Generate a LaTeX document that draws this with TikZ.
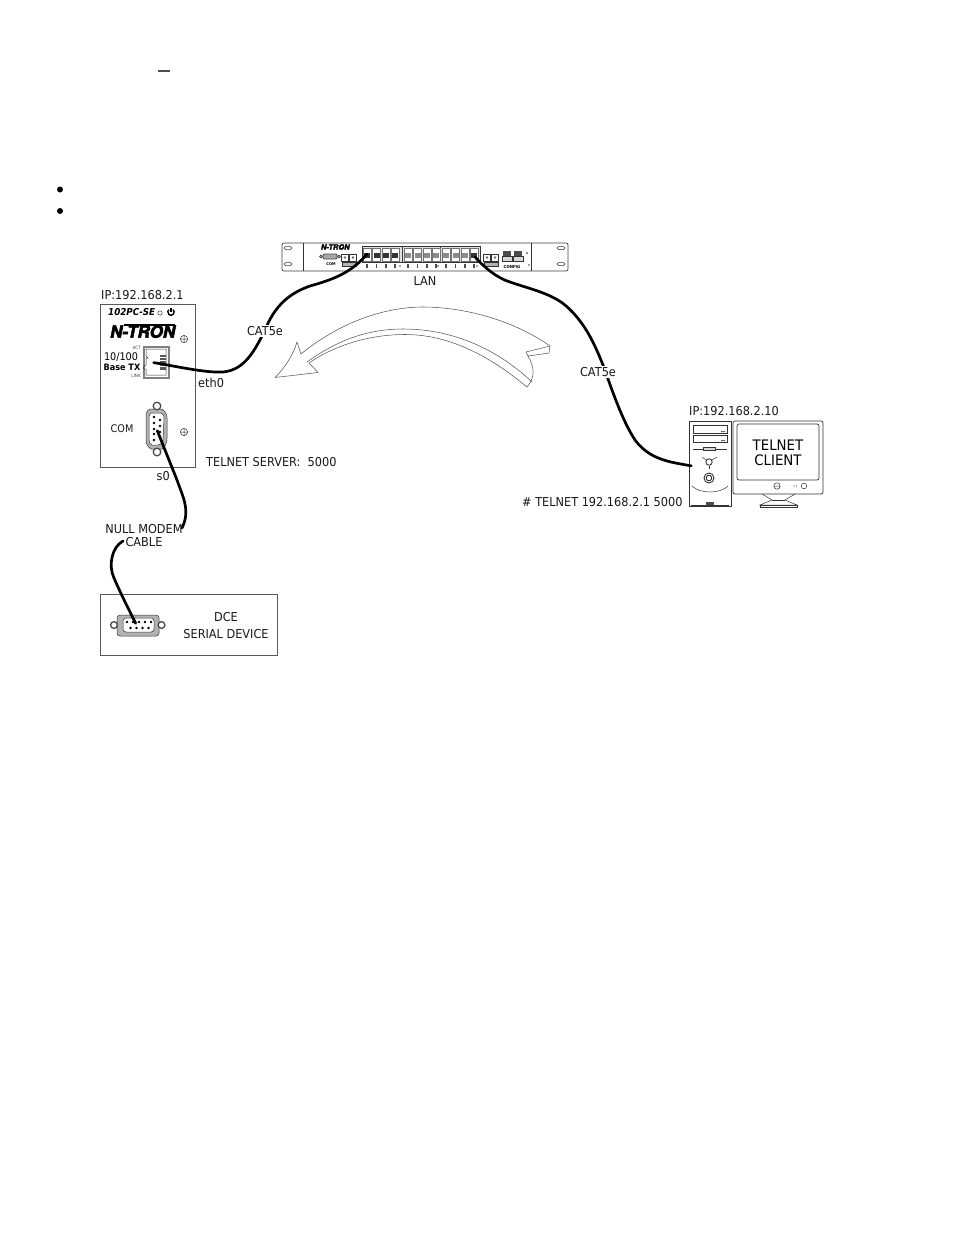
\documentclass[tikz,border=0pt]{standalone}
\usepackage{fontspec}
\setmainfont{DejaVu Sans}[FakeStretch=0.92]
\newfontfamily\ntronf{TeX Gyre Heros}[FakeBold=3,FakeSlant=0.2,FakeStretch=1.0]
\begin{document}
\begin{tikzpicture}[x=1pt,y=-1pt,
  box/.style={draw=black!65,line width=.7pt},
  thin part/.style={draw=black!80,line width=.5pt},
  cable/.style={draw=black,line width=2.7pt,line cap=round,line join=round},
  lbl/.style={inner sep=0pt,font=\fontsize{12.3}{13}\selectfont,text=black!90},
  gaplbl/.style={lbl,fill=white,inner sep=1.5pt},
  arrowline/.style={draw=black!65,line width=.55pt,line join=round}]
\useasboundingbox[fill=white] (0,0) rectangle (954,1235);
% top marks
\draw[line width=1.3pt,black!70] (158,71) -- (170,71);
\fill (60,189.5) circle (3); \fill (60,211) circle (3);

% ===== Rack switch =====
\node[box,draw=black!75,rounded corners=2pt,minimum width=286pt,minimum height=28pt,inner sep=0pt] (rack) at (425,257) {};
\draw[thin part] (303,243)--(303,271) (531,243)--(531,271);
\foreach \x/\y in {288/248,288/264,561/248,561/264}{
  \draw[thin part,rounded corners=1.5pt] (\x-4,\y-1.5) rectangle (\x+4,\y+1.5);}
\node[inner sep=0pt,font=\fontsize{7.5}{8}\ntronf\bfseries\selectfont] at (335,247) {N-TRON};
\draw[draw=black!70,rounded corners=1pt,line width=.8pt,fill=black!35] (323,254) rectangle (337,259);
\draw[thin part,line width=.7pt] (321,256.5) circle (1.3) (339,256.5) circle (1.3);
\node[inner sep=0pt,font=\fontsize{3.8}{4}\bfseries\selectfont] at (331,264) {COM};
\foreach \x in {345,353}{\draw[thin part,line width=.7pt] (\x-3.5,254) rectangle (\x+3.5,261);\fill[black!60] (\x,257.5) circle (1.4);}
\draw[thin part,fill=black!30] (342,262.5) rectangle (356,266);
% 12 RJ45 ports
\draw[draw=black!80,line width=1pt,fill=black!12] (362,246) rectangle (480,262);
\draw[line width=1pt,black!75] (402,246)--(402,262) (440,246)--(440,262);
\foreach \x/\s in {367/80,376.5/80,386/80,395/80,
                   408/45,417.5/45,427/45,436/45,
                   446/45,455.5/45,465/45,474/80}{
  \draw[black!55,line width=.4pt,fill=white] (\x-4,248) rectangle (\x+4,261);
  \fill[black!\s] (\x-3,252.5) rectangle (\x+3,258);
  \fill[black!70] (\x-.6,264) rectangle (\x+.6,268);
}
\foreach \x in {400,438,477}{\fill[black!70] (\x,266) circle (.8);}
\foreach \x in {487,495}{\draw[thin part,line width=.7pt] (\x-3.5,254) rectangle (\x+3.5,261);\fill[black!60] (\x,257.5) circle (1.4);}
\draw[thin part,fill=black!30] (484,262.5) rectangle (498,266);
\foreach \x in {507,518}{\fill[black!70] (\x-4,251) rectangle (\x+4,256);\draw[thin part,fill=black!15] (\x-5,256) rectangle (\x+5,261);}
\fill[black!70] (527,253) circle (1);
\node[inner sep=0pt,font=\fontsize{4.2}{4}\bfseries\selectfont] at (512,267) {CONFIG};
\fill[black!70] (529,265) circle (.8);

% named cable ends
\coordinate (sw1) at (367,254);
\coordinate (sw12) at (475,257);
\node[inner sep=0pt,minimum size=1pt] (ethjack) at (153,362.5) {};
\node[inner sep=0pt,minimum size=1pt] (compc) at (692,466) {};
\node[inner sep=0pt,minimum size=1pt] (comsrv) at (157,430) {};
\node[inner sep=0pt,minimum size=1pt] (comdev) at (136,624) {};

% ===== Curved arrow =====
\draw[arrowline,fill=white]
  (297,342) -- (301,354)
  .. controls (340,322) and (385,307) .. (423,307)
  .. controls (460,307) and (510,318) .. (550,346)
  -- (549,353) -- (528,356)
  .. controls (535,368) and (535,378) .. (527,387)
  .. controls (485,352) and (445,334.5) .. (405,334.5)
  .. controls (370,334.5) and (335,345) .. (309,363)
  -- (318,372.5) -- (275,377.5)
  .. controls (285,368) and (293,355) .. (297,342) -- cycle;
\draw[arrowline] (307,362) .. controls (335,342) and (365,329) .. (403,329)
  .. controls (450,329) and (495,347) .. (532,382);
\draw[arrowline] (526,352) -- (550,346);
\draw[arrowline] (526,352) -- (528,356);

% ===== Server panel =====
\node[box,minimum width=95pt,minimum height=163pt,inner sep=0pt] (panel) at (147.5,385.5) {};
\node[lbl,anchor=west] at (101,295) {IP:192.168.2.1};
\node[inner sep=0pt,anchor=west,font=\fontsize{9.5}{11}\bfseries\itshape\selectfont] at (108,312) {102PC-SE};
\draw[thin part] (160,313) circle (2.2);
\draw[line width=1.4pt] (173,309.6) arc[start angle=-50,end angle=230,radius=3.2];
\draw[line width=1.4pt] (171,307.5)--(171,312);
\node[inner sep=0pt,font=\fontsize{17}{18}\ntronf\bfseries\selectfont,anchor=center] at (142,331.5) {N-TRON};
\draw[line width=1.4pt] (124,325)--(175,325);
\foreach \y in {339,432}{\draw[thin part] (184,\y) circle (3.6) (180.4,\y)--(187.6,\y) (184,\y-3.6)--(184,\y+3.6);}
\node[inner sep=0pt,font=\fontsize{4.5}{5}\selectfont,anchor=east,black!70] at (141,348) {ACT};
\node[inner sep=0pt,font=\fontsize{4.5}{5}\selectfont,anchor=east,black!70] at (141,376) {LINK};
\node[inner sep=0pt,font=\fontsize{10.5}{11}\selectfont] at (121,357) {10/100};
\node[inner sep=0pt,font=\fontsize{8.8}{11}\bfseries\selectfont] at (122,367.5) {Base TX};
% RJ45 jack
\draw[draw=black!50,line width=2pt] (144,346.5) rectangle (169,377.5);
\draw[thin part] (146,349) -- (166,349) -- (166,375) -- (146,375) -- (146,369) -- (143.5,369) -- (143.5,367) -- (146,365) -- (146,358) -- (148,358) -- (146,356)--cycle;
\fill[black!65] (160,355) rectangle (166,370);
\foreach \y in {357,360,363,366}{\draw[white,line width=.4pt] (160,\y)--(166,\y);}
\node[lbl,font=\fontsize{10.5}{11}\selectfont] at (122,429) {COM};
% DB9 vertical
\draw[thin part,fill=black!30] (150,409) .. controls (146,411) and (146,414) .. (146,418)
  -- (146,440) .. controls (146,444) and (148,447) .. (151,449) -- (162,449)
  .. controls (166,446) and (167,442) .. (167,438) -- (167,418) .. controls (167,414) and (165,411) .. (162,409) -- cycle;
\draw[thin part,fill=white] (151,413) -- (161,413) .. controls (164,414) and (164,416) .. (164,418) -- (163,440) .. controls (162,443) and (161,445) .. (158,445) -- (152,445) .. controls (150,444) and (149,442) .. (149,440) -- (149,416) -- cycle;
\foreach \p in {{157,406},{157,452}}{\draw[draw=black!70,line width=1.3pt,fill=white] (\p) circle (3.8);}
\foreach \x/\y in {154/417,154/423,154/429,154/434,154/440,160/420,160/426,160/432,160/437}{\fill (\x,\y) circle (1.3);}

% ===== Serial device =====
\node[box,minimum width=177pt,minimum height=61pt,inner sep=0pt] (dev) at (188.5,624.5) {};
\draw[thin part,fill=black!30,rounded corners=3pt] (117,615) rectangle (159,636);
\draw[thin part,fill=white,rounded corners=3pt] (123,618) rectangle (154,632);
\foreach \p in {{114,625},{161.5,625}}{\draw[draw=black!70,line width=1.3pt,fill=white] (\p) circle (3.4);}
\foreach \x in {128,134,140,146,152}{\fill (\x-1,622) circle (1.3);}
\foreach \x in {131,137,143,149}{\fill (\x-.5,628) circle (1.3);}
\node[lbl] at (226,617) {DCE};
\node[lbl] at (226,634) {SERIAL DEVICE};

% ===== PC and monitor =====
\node[box,draw=black!80,minimum width=42pt,minimum height=85pt,inner sep=0pt] (tower) at (710,463.5) {};
\draw[thin part] (693,425) rectangle (727,433) (693,435) rectangle (727,442);
\fill[black!60] (721,431) rectangle (725,432) (721,440) rectangle (725,441);
\draw[thin part] (693,449)--(703,449) (715,449)--(727,449);
\draw[thin part,fill=black!15] (703,447) rectangle (715,450.5);
\draw[thin part] (702,457)--(706,460) (717,457)--(712,460);
\draw[thin part,line width=.9pt] (709,462) circle (3.2);
\draw[thin part] (709,466)--(709,469);
\draw[thin part,line width=.9pt] (709,478) circle (5) (709,478) circle (2.8);
\draw[thin part] (692,486) .. controls (700,494) and (720,494) .. (728,486);
\fill[black!70] (706,501.5) rectangle (714,505);
\draw[thin part] (691,505)--(729,505);
\draw[draw=black!80,line width=.7pt,rounded corners=2pt] (733,421) rectangle (823,494);
\draw[draw=black!80,line width=.7pt,rounded corners=2pt] (737,424) rectangle (819,480);
\node[inner sep=0pt,align=center,font=\fontsize{14.5}{15}\selectfont] (client) at (778,453) {TELNET\\CLIENT};
\draw[thin part] (777,486) circle (3.2) (774,486)--(780,486);
\fill[black!70] (794,486) circle (.7) (796.5,486) circle (.7);
\draw[thin part] (804,486) circle (2.8);
\draw[thin part] (762,494) -- (772,500) -- (760,505) -- (797,505) -- (785,500) -- (795,494);
\draw[thin part] (772,500) -- (785,500);
\draw[thin part] (760,505) rectangle (797,507);
\node[lbl,anchor=west] at (689,411) {IP:192.168.2.10};

% ===== Cables =====
\draw[cable] (ethjack) .. controls (175,366) and (205,373) .. (223,372)
  .. controls (245,370) and (255,350) .. (265,330)
  .. controls (275,305) and (290,293) .. (310,286)
  .. controls (335,279) and (352,272) .. (sw1);
\draw[cable] (sw12) .. controls (485,268) and (497,278) .. (510,282)
  .. controls (530,289) and (550,293) .. (565,305)
  .. controls (585,322) and (595,345) .. (603,365)
  .. controls (612,390) and (622,420) .. (635,440)
  .. controls (650,460) and (670,462) .. (compc);
\draw[cable] (comsrv) -- (177,480) .. controls (182,495) and (191,510) .. (182,528);
\draw[cable] (123,541) .. controls (112,547) and (108,565) .. (114,578)
  .. controls (120,592) and (128,608) .. (comdev);

% ===== Labels =====
\node[gaplbl] (cat1) at (265,331) {CAT5e};
\node[gaplbl] (cat2) at (598,372) {CAT5e};
\node[lbl] at (425,281) {LAN};
\node[lbl,anchor=west] at (198,383) {eth0};
\node[lbl,anchor=west,fill=white,inner sep=.5pt] at (156,476.5) {s0};
\node[lbl,anchor=west] at (206,462) {TELNET SERVER:\ \ 5000};
\node[lbl,anchor=west] at (522,502) {\# TELNET 192.168.2.1 5000};
\node[lbl,inner sep=0pt,align=center] at (144,535.5) {NULL MODEM\\CABLE};
\end{tikzpicture}
\end{document}
